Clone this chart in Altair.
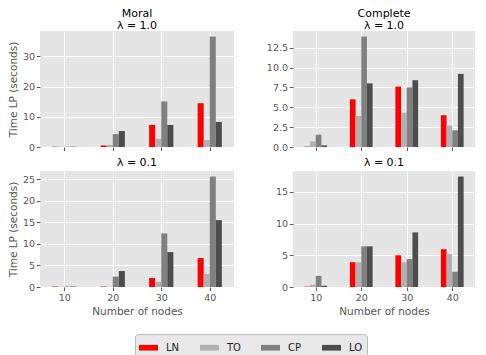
import altair as alt
import pandas as pd

nodes = [10, 20, 30, 40]
methods = ["LN", "TO", "CP", "LO"]
colors = ["#FF0000", "#B0B0B0", "#808080", "#4D4D4D"]

# Moral, lambda = 1.0
moral_l1 = {
    "LN": [0.1, 0.5, 7.3, 14.5],
    "TO": [0.05, 0.7, 2.7, 2.3],
    "CP": [0.1, 4.3, 15.1, 36.6],
    "LO": [0.1, 5.3, 7.3, 8.3],
}
# Complete, lambda = 1.0
complete_l1 = {
    "LN": [0.05, 6.0, 7.6, 4.0],
    "TO": [0.7, 3.9, 4.3, 2.7],
    "CP": [1.55, 13.9, 7.5, 2.1],
    "LO": [0.2, 8.0, 8.4, 9.2],
}
# Moral, lambda = 0.1
moral_l01 = {
    "LN": [0.1, 0.1, 2.1, 6.7],
    "TO": [0.05, 0.05, 1.2, 3.05],
    "CP": [0.1, 2.4, 12.4, 25.6],
    "LO": [0.1, 3.7, 8.1, 15.5],
}
# Complete, lambda = 0.1
complete_l01 = {
    "LN": [0.05, 3.9, 5.0, 5.95],
    "TO": [0.35, 3.9, 3.9, 5.2],
    "CP": [1.75, 6.4, 4.4, 2.4],
    "LO": [0.2, 6.4, 8.6, 17.4],
}

FONT = "DejaVu Sans"
H = 116
BAR = 1.25


def make_df(vals):
    rows = []
    for mi, m in enumerate(methods):
        for ni, n in enumerate(nodes):
            c = n + (mi - 1.5) * BAR
            rows.append(dict(method=m, nodes=n, x=c - BAR / 2, x2=c + BAR / 2, t=vals[m][ni]))
    return pd.DataFrame(rows)


def panel(vals, title, yvals, yfmt, left, bottom, width, toff):
    df = make_df(vals)
    ymax = max(max(v) for v in vals.values()) * 1.05
    xaxis = alt.Axis(
        values=nodes,
        labels=bottom,
        title="Number of nodes" if bottom else None,
        grid=True,
    )
    yaxis = alt.Axis(
        values=yvals,
        format=yfmt,
        title="Time LP (seconds)" if left else None,
        grid=True,
    )
    return (
        alt.Chart(df)
        .mark_bar()
        .encode(
            x=alt.X("x:Q", scale=alt.Scale(domain=[5, 45], nice=False, zero=False), axis=xaxis),
            x2="x2:Q",
            y=alt.Y("t:Q", scale=alt.Scale(domain=[0, ymax], nice=False), axis=yaxis),
            y2=alt.datum(0),
            color=alt.Color(
                "method:N",
                scale=alt.Scale(domain=methods, range=colors),
                legend=alt.Legend(
                    title=None,
                    orient="none",
                    direction="horizontal",
                    legendX=95,
                    legendY=303,
                    symbolType="M-1,-0.3H1V0.3H-1Z",
                    symbolSize=361,
                    symbolStrokeWidth=0,
                    symbolOpacity=1,
                    labelFont=FONT,
                    labelFontSize=10,
                    labelColor="#222222",
                    labelOffset=8,
                    columnPadding=20,
                    padding=4,
                    fillColor="#E8E8E8",
                    strokeColor="#BBBBBB",
                    cornerRadius=3,
                ),
            ),
        )
        .properties(
            width=width,
            height=H,
            title=alt.TitleParams(
                text=title, font=FONT, fontSize=11, fontWeight="normal",
                color="black", lineHeight=12, offset=toff,
            ),
        )
    )


a = panel(moral_l1, ["Moral", "λ = 1.0"], [0, 10, 20, 30], "d", True, False, 194, 0)
b = panel(complete_l1, ["Complete", "λ = 1.0"], [0, 2.5, 5, 7.5, 10, 12.5], ".1f", False, False, 182, 0)
c = panel(moral_l01, "λ = 0.1", [0, 5, 10, 15, 20, 25], "d", True, True, 194, 3)
d = panel(complete_l01, "λ = 0.1", [0, 5, 10, 15], "d", False, True, 182, 3)

chart = (
    alt.concat(a, b, c, d, columns=2, spacing=alt.RowColnumber(row=5, column=32))
    .resolve_scale(y="independent", x="independent")
    .properties(padding=0)
    .configure_view(fill="#E5E5E5", stroke=None)
    .configure_axis(
        labelFont=FONT,
        labelFontSize=9.5,
        labelColor="#555555",
        titleFont=FONT,
        titleFontSize=10.5,
        titleFontWeight="normal",
        titleColor="#555555",
        tickColor="#555555",
        tickSize=3.5,
        domain=False,
        gridColor="white",
        gridWidth=1,
        labelPadding=2,
        titlePadding=4,
    )
    .configure_title(anchor="middle")
)

chart.save("out.html", embed_options={"renderer": "svg", "actions": False})
